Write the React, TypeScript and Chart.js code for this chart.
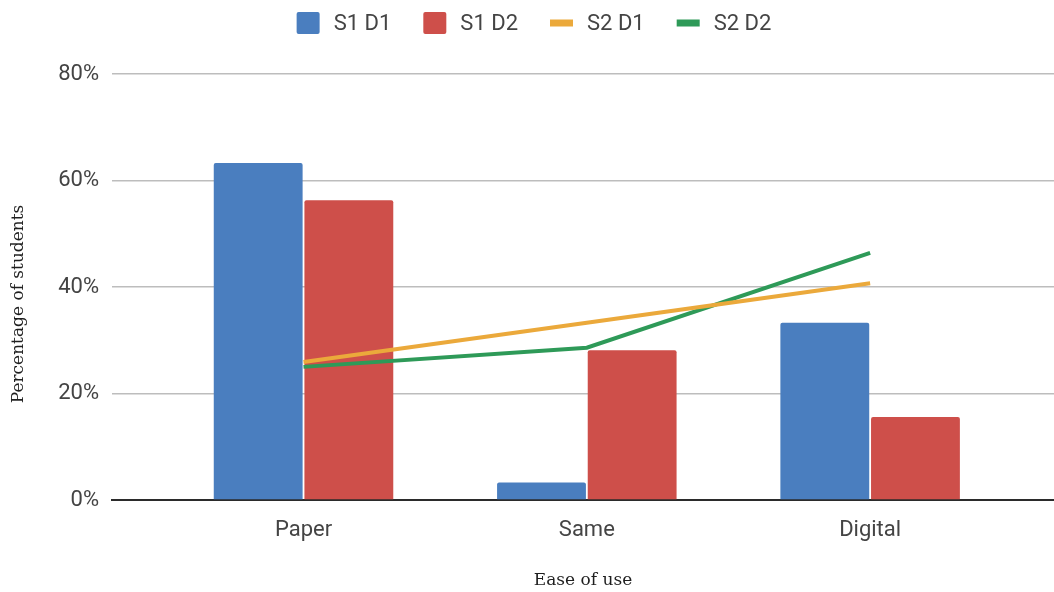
import { useEffect, useRef } from "react";
import { Chart, registerables } from "chart.js";

Chart.register(...registerables);

// Survey answers: which medium was easier to use
const categories = ["Paper", "Same", "Digital"];
const seriesNames = ["S1 D1", "S1 D2", "S2 D1", "S2 D2"];
const s1d1 = [63.3, 3.3, 33.3];
const s1d2 = [56.3, 28.1, 15.6];
const s2d1 = [25.9, 33.3, 40.7];
const s2d2 = [25.0, 28.6, 46.4];
const yTickValues = [0, 20, 40, 60, 80];
const xTitle = "Ease of use";
const yTitle = "Percentage of students";

const colors = ["#4a7ebf", "#ce4f4a", "#eba93b", "#2e9a58"];
const textColor = "#444444";
const titleColor = "#1e1e1e";
const tickFont = { family: "Roboto", size: 22 };
const titleFont = { family: "'DejaVu Serif'", size: 17 };

const toPoints = (values: number[]) => values.map((y, i) => ({ x: i, y }));

// Legend across the top: squares for bar series, short thick strokes for line series
const topLegend = {
  id: "topLegend",
  afterDraw(chart: any, _args: any, opts: any) {
    const { ctx } = chart;
    const datasets = chart.data.datasets;
    ctx.save();
    ctx.font = `${opts.fontSize}px Roboto`;
    ctx.textBaseline = "middle";
    ctx.textAlign = "left";
    const items = datasets.map((ds: any) => ({
      label: ds.label as string,
      color: ds.type === "line" ? ds.borderColor : ds.backgroundColor,
      isLine: ds.type === "line",
      textWidth: ctx.measureText(ds.label).width,
    }));
    const widths = items.map(
      (it: any) => opts.markerWidth + opts.textGap + it.textWidth
    );
    const total =
      widths.reduce((a: number, b: number) => a + b, 0) +
      opts.itemGap * (items.length - 1);
    let x = chart.width / 2 + opts.shiftX - total / 2;
    const y = opts.centerY;
    items.forEach((it: any, i: number) => {
      ctx.fillStyle = it.color;
      if (it.isLine) {
        ctx.fillRect(x, y - opts.lineHeight / 2, opts.markerWidth, opts.lineHeight);
      } else {
        ctx.beginPath();
        ctx.roundRect(x, y - opts.boxSize / 2, opts.markerWidth, opts.boxSize, 2);
        ctx.fill();
      }
      ctx.fillStyle = textColor;
      ctx.fillText(it.label, x + opts.markerWidth + opts.textGap, y + 1);
      x += widths[i] + opts.itemGap;
    });
    ctx.restore();
  },
};

// Vertical axis title, placed a little below the plot's middle
const sideTitle = {
  id: "sideTitle",
  afterDraw(chart: any, _args: any, opts: any) {
    const { ctx, chartArea } = chart;
    ctx.save();
    ctx.font = `${titleFont.size}px ${titleFont.family}`;
    ctx.fillStyle = titleColor;
    ctx.textAlign = "center";
    ctx.textBaseline = "middle";
    ctx.translate(opts.x, (chartArea.top + chartArea.bottom) / 2 + opts.shiftY);
    ctx.rotate(-Math.PI / 2);
    ctx.fillText(opts.text, 0, 0);
    ctx.restore();
  },
};

export default function App() {
  const canvasRef = useRef<HTMLCanvasElement | null>(null);

  useEffect(() => {
    document.body.style.margin = "0";
    const canvas = canvasRef.current;
    if (!canvas) return;

    const barStyle = {
      borderWidth: 0,
      borderRadius: 2,
      categoryPercentage: 0.64,
      barPercentage: 0.98,
      order: 1,
    };
    const lineStyle = {
      borderWidth: 4,
      pointRadius: 0,
      tension: 0,
      order: 0,
    };

    const chart = new Chart(canvas, {
      type: "bar",
      data: {
        datasets: [
          { type: "bar", label: seriesNames[0], data: toPoints(s1d1), backgroundColor: colors[0], ...barStyle },
          { type: "bar", label: seriesNames[1], data: toPoints(s1d2), backgroundColor: colors[1], ...barStyle },
          { type: "line", label: seriesNames[2], data: toPoints(s2d1), borderColor: colors[2], backgroundColor: colors[2], ...lineStyle },
          { type: "line", label: seriesNames[3], data: toPoints(s2d2), borderColor: colors[3], backgroundColor: colors[3], ...lineStyle },
        ] as any,
      },
      options: {
        animation: false,
        responsive: true,
        maintainAspectRatio: false,
        layout: { padding: { top: 74, left: 0, right: 0, bottom: 0 } },
        plugins: {
          legend: { display: false },
          tooltip: { enabled: false },
          topLegend: {
            fontSize: 22,
            markerWidth: 23,
            boxSize: 22,
            lineHeight: 7,
            textGap: 14,
            itemGap: 32,
            centerY: 23,
            shiftX: 7,
          },
          sideTitle: { text: yTitle, x: 19, shiftY: 17 },
        } as any,
        scales: {
          x: {
            type: "linear",
            min: -0.676,
            max: 2.649,
            offset: false,
            afterBuildTicks: (axis: any) => {
              axis.ticks = categories.map((_, i) => ({ value: i }));
            },
            afterFit: (axis: any) => {
              axis.height = 92;
            },
            ticks: {
              autoSkip: false,
              maxRotation: 0,
              padding: 17,
              color: textColor,
              font: tickFont,
              callback: (v: any) => categories[Number(v)] ?? "",
            },
            grid: { display: true, drawOnChartArea: false, drawTicks: false },
            border: { display: true, color: "#2b2b2b", width: 2 },
            title: {
              display: true,
              text: xTitle,
              color: titleColor,
              font: titleFont,
              padding: { top: 0, bottom: 1 },
            },
          },
          y: {
            type: "linear",
            min: 0,
            max: 80,
            afterBuildTicks: (axis: any) => {
              axis.ticks = yTickValues.map((value) => ({ value }));
            },
            afterFit: (axis: any) => {
              axis.width = 112;
            },
            ticks: {
              padding: 13,
              color: textColor,
              font: tickFont,
              callback: (v: any) => `${v}%`,
            },
            grid: { color: "#bdbdbd", lineWidth: 1.5, drawTicks: false },
            border: { display: false },
          },
        },
      },
      plugins: [topLegend, sideTitle],
    });

    return () => chart.destroy();
  }, []);

  return (
    <div style={{ position: "relative", width: 1054, height: 592 }}>
      <canvas ref={canvasRef} />
    </div>
  );
}
